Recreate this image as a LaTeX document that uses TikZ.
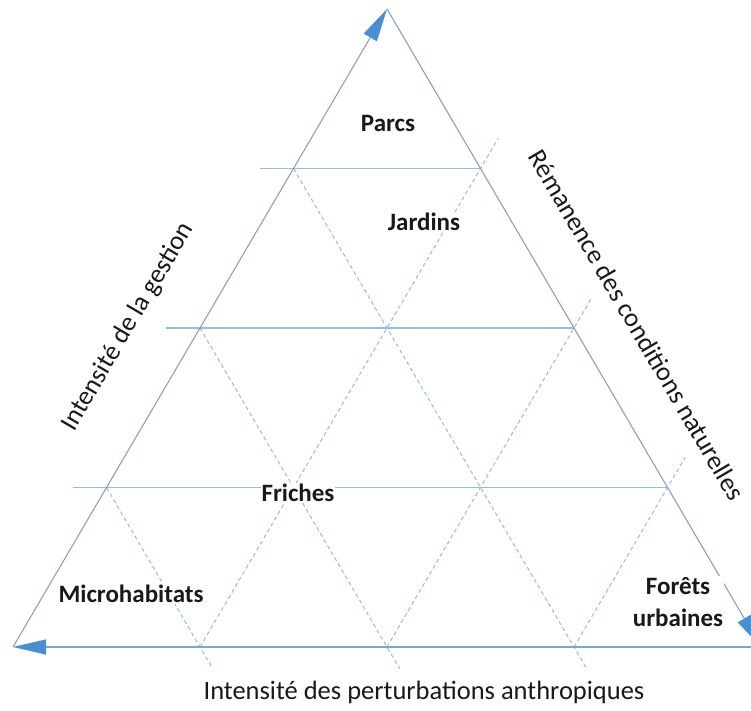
\documentclass[tikz,border=0pt]{standalone}
\usepackage{fontspec}
\setmainfont{Carlito}
\usetikzlibrary{arrows.meta}
\usetikzlibrary{calc}
\definecolor{cote}{RGB}{140,160,188}
\definecolor{bleubase}{RGB}{125,165,210}
\definecolor{bleugrille}{RGB}{150,188,222}
\definecolor{fleche}{RGB}{72,142,208}
\definecolor{encre}{RGB}{25,25,25}

\begin{document}
\begin{tikzpicture}[x=1pt, y=1pt,
    niveau/.style={bleugrille, line width=1.1pt},
    pointille/.style={bleugrille, line width=1pt, dash pattern=on 4pt off 3pt},
    pointe/.style={line width=1.1pt, -{Triangle[length=33pt, width=15pt, fleche]}},
    zone/.style={encre, fill=white, inner sep=1pt, font=\fontsize{25}{32}\selectfont\bfseries},
    axe/.style={encre, font=\fontsize{26.5}{30}\selectfont}]

    \useasboundingbox (0,0) rectangle (751,710);

    \coordinate (A) at (387,701);
    \coordinate (L) at (13,63);
    \coordinate (R) at (761,63);

    \foreach \k in {1,2,3} {
        \coordinate (g\k) at ($(L)!\k/4!(A)$);
        \coordinate (d\k) at ($(R)!\k/4!(A)$);
        \coordinate (b\k) at ($(L)!\k/4!(R)$);
    }

    % niveaux horizontaux
    \foreach \k in {1,2,3}
        \draw[niveau] ($(g\k)+(-34,0)$) -- (d\k);

    % pointilles
    \foreach \k/\j in {1/3,2/2,3/1} {
        \draw[pointille] (g\k) -- ($(b\k)!-25pt!(g\k)$);
        \draw[pointille] (b\k) -- ($(d\j)!-35pt!(b\k)$);
    }

    % cotes
    \draw[cote, pointe] (L) -- (A);
    \draw[cote, pointe] (A) -- (R);
    \draw[bleubase, pointe] (R) -- (L);

    \node[zone] (parcs) at (388,587) {Parcs};
    \node[zone] (jardins) at (424,488) {Jardins};
    \node[zone] (friches) at (298,217) {Friches};
    \node[zone] (micro) at (131,116) {Microhabitats};
    \node[zone, align=center] (forets) at (678,108) {Forêts\\urbaines};

    \node[axe] (perturb) at (424,18) {Intensité des perturbations anthropiques};
    \node[axe, rotate=59.6] (gestion) at (128,383) {Intensité de la gestion};
    \node[axe, rotate=-59.6] (remanence) at (637,385) {Rémanence des conditions naturelles};

\end{tikzpicture}
\end{document}
